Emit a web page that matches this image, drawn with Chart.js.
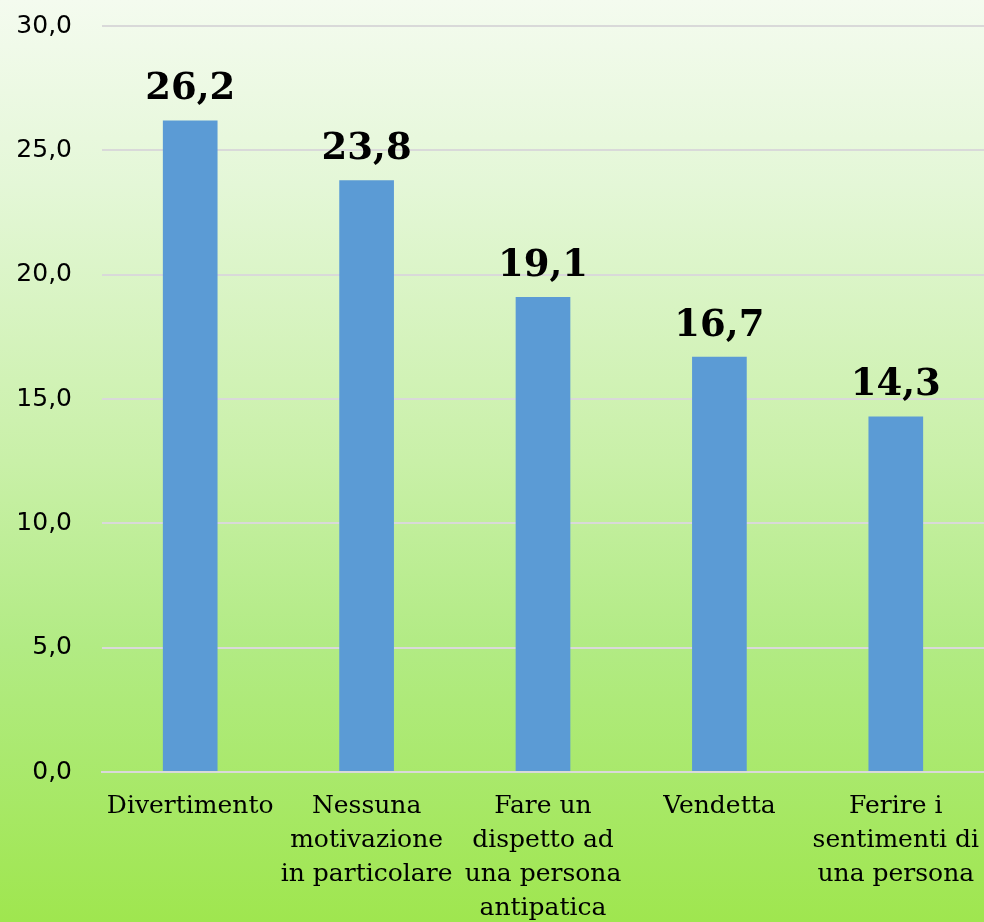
<!DOCTYPE html>
<html>
<head>
<meta charset="utf-8">
<script src="https://cdn.jsdelivr.net/npm/chart.js@4"></script>
<style>
  html, body { margin: 0; padding: 0; }
  body { width: 984px; height: 922px; background: linear-gradient(to bottom, #f4fbef 0%, #e4f7d7 20%, #c9f0a8 50%, #b2eb84 70%, #9fe64f 100%); }
  #wrap { width: 984px; height: 922px; position: relative; }
</style>
</head>
<body>
<div id="wrap"><canvas id="c"></canvas></div>
<script>
const categories = [
  ["Divertimento"],
  ["Nessuna", "motivazione", "in particolare"],
  ["Fare un", "dispetto ad", "una persona", "antipatica"],
  ["Vendetta"],
  ["Ferire i", "sentimenti di", "una persona"]
];
const values = [26.2, 23.8, 19.1, 16.7, 14.3];
const yMin = 0, yMax = 30, yStep = 5;

const fmt = v => v.toFixed(1).replace('.', ',');

const valueLabels = {
  id: 'valueLabels',
  afterDatasetsDraw(chart) {
    const ctx = chart.ctx;
    const meta = chart.getDatasetMeta(0);
    ctx.save();
    ctx.font = 'bold 37px "DejaVu Serif"';
    ctx.fillStyle = '#000';
    ctx.textAlign = 'center';
    ctx.textBaseline = 'alphabetic';
    meta.data.forEach((el, i) => {
      ctx.fillText(fmt(values[i]), el.x, el.y - 21);
    });
    ctx.restore();
  }
};

new Chart(document.getElementById('c'), {
  type: 'bar',
  data: {
    labels: categories,
    datasets: [{
      data: values,
      backgroundColor: '#5b9bd5',
      borderWidth: 0,
      categoryPercentage: 0.62,
      barPercentage: 0.5
    }]
  },
  options: {
    responsive: true,
    maintainAspectRatio: false,
    animation: false,
    layout: { padding: { top: 26, right: 0, bottom: 0, left: 0 } },
    plugins: { legend: { display: false }, tooltip: { enabled: false } },
    scales: {
      y: {
        min: yMin, max: yMax,
        ticks: {
          stepSize: yStep,
          padding: 30,
          color: '#000',
          font: { family: '"DejaVu Sans"', size: 25 },
          callback: v => fmt(v)
        },
        grid: { color: '#d9d9d9', lineWidth: 2, drawTicks: false },
        border: { display: false },
        afterFit: s => { s.width = 102; s.paddingTop = 0; s.paddingBottom = 0; }
      },
      x: {
        ticks: {
          padding: 17,
          color: '#000',
          maxRotation: 0,
          autoSkip: false,
          font: { family: '"DejaVu Serif"', size: 25, lineHeight: 1.36 }
        },
        grid: { display: false, drawTicks: false },
        border: { display: true, color: '#d9d9d9', width: 2 },
        afterFit: s => { s.height = 150; s.paddingLeft = 0; s.paddingRight = 0; }
      }
    }
  },
  plugins: [valueLabels]
});
</script>
</body>
</html>
